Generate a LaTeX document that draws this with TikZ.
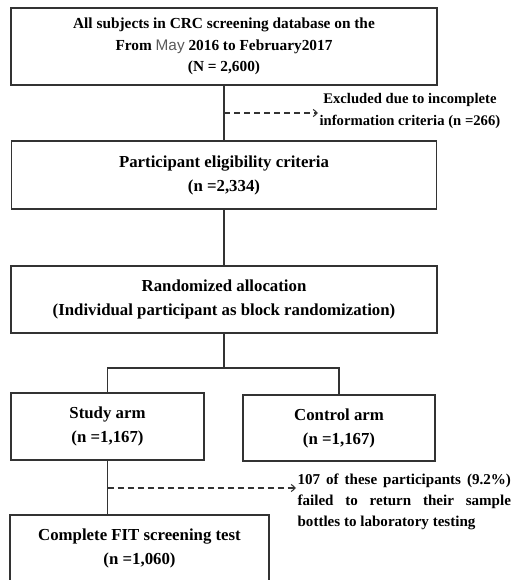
\documentclass[tikz,border=0pt]{standalone}
\usepackage{fontspec}
\setmainfont{Liberation Serif}
\newfontfamily\maysans{Liberation Sans}
\usetikzlibrary{arrows.meta}
\begin{document}
\begin{tikzpicture}[x=0.75pt,y=-0.75pt,
    box/.style={draw=black!80,line width=0.8pt,align=center,inner sep=0pt,
        font=\bfseries\fontsize{12.6}{18}\selectfont},
    note/.style={align=center,inner sep=1pt,font=\bfseries\fontsize{11}{16.5}\selectfont},
    link/.style={draw=black!80,line width=0.8pt},
    dasharrow/.style={link,dash pattern=on 4.5pt off 3pt,-{Straight Barb[length=3pt,width=5.5pt]}}]
    \useasboundingbox (0,0) rectangle (513,580);
    \node[box,minimum width=319.5pt,minimum height=57.75pt,
        font=\bfseries\fontsize{11.5}{16}\selectfont] (top) at (224,46.5)
        {All subjects in CRC screening database on the\\
         From {\maysans\mdseries\color{black!65}May} 2016 to February2017\\
         (N = 2,600)};
    \node[box,minimum width=318.75pt,minimum height=51pt] (elig) at (224,175)
        {Participant eligibility criteria\\(n =2,334)};
    \node[box,minimum width=319.5pt,minimum height=50.25pt] (rand) at (224,299.5)
        {Randomized allocation\\(Individual participant as block randomization)};
    \node[box,minimum width=144.75pt,minimum height=50.25pt] (study) at (107.5,426.5)
        {Study arm\\(n =1,167)};
    \node[box,minimum width=144pt,minimum height=49.5pt] (control) at (339,428)
        {Control arm\\(n =1,167)};
    \node[box,minimum width=194.25pt,minimum height=50.25pt] (fit) at (139.5,548.5)
        {Complete FIT screening test\\(n =1,060)};
    \node[note,anchor=west] (excl) at (318,111)
        {Excluded due to incomplete\\information criteria (n =266)};
    \node[note,anchor=west,align=justify,text width=160pt,
        font=\bfseries\fontsize{11.3}{15.5}\selectfont] (fail) at (296,502)
        {\hyphenpenalty=10000 107 of these participants (9.2\%)\linebreak failed to return their sample\linebreak bottles to laboratory testing};
    \coordinate (ex1) at (224,113);
    \coordinate (split) at (224,368);
    \coordinate (ex2) at (107.5,488);
    \draw[link] (top.south) -- (elig.north);
    \draw[dasharrow] (ex1) -- (ex1 -| excl.west);
    \draw[link] (elig.south) -- (rand.north);
    \draw[link] (rand.south) -- (split);
    \draw[link] (study.north) |- (split) -| (control.north);
    \draw[link] (study.south) -- (study.south |- fit.north);
    \draw[dasharrow] (ex2) -- (ex2 -| fail.west);
\end{tikzpicture}
\end{document}
